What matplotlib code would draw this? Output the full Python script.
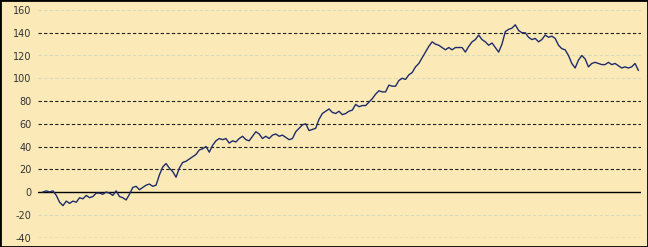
import matplotlib.pyplot as plt
from matplotlib.patches import Rectangle

# valeurs (une tous les ~3 px)
values = [
    0, 1, 0, 1, -3, -9, -12, -8, -10, -8, -9, -5, -6, -3, -5, -4, -1, -1, -2, 0,
    -1, -3, 1, -4, -5, -7, -2, 4, 5, 2, 4, 6, 7, 5, 6, 15, 22, 25, 21, 18,
    13, 21, 26, 27, 29, 31, 33, 37, 38, 40, 35, 41, 45, 47, 46, 47, 43, 45, 44, 47,
    49, 46, 45, 49, 53, 51, 47, 49, 47, 50, 51, 49, 50, 48, 46, 47, 53, 56, 59, 60,
    54, 55, 56, 64, 69, 71, 73, 70, 69, 71, 68, 69, 71, 72, 77, 75, 76, 76, 79, 82,
    86, 89, 88, 88, 94, 93, 93, 98, 100, 99, 103, 105, 110, 113, 118, 123, 128, 132, 130, 129,
    127, 125, 127, 125, 127, 127, 127, 123, 128, 132, 134, 138, 134, 132, 129, 131, 127, 123, 130, 141,
    143, 144, 147, 142, 140, 140, 136, 134, 135, 132, 134, 138, 136, 137, 135, 129, 126, 125, 120, 113,
    109, 116, 120, 117, 110, 113, 114, 113, 112, 112, 114, 112, 113, 111, 109, 110, 109, 110, 113, 107,
]
y_ticks = [-40, -20, 0, 20, 40, 60, 80, 100, 120, 140, 160]
faint_lines = [-20, 100, 120, 160]

bg = '#FBEAB7'
fig = plt.figure(figsize=(6.48, 2.47), dpi=100, facecolor=bg)
ax = fig.add_axes([38 / 648, 1 - 237.5 / 247, (641 - 38) / 648, 227.5 / 247])
ax.set_facecolor(bg)

n = len(values)
ax.set_xlim(-1.5, n - 0.2)
ax.set_ylim(-40, 160)

# quadrillage pointillé
for t in y_ticks:
    if t == 0:
        continue
    if t in faint_lines:
        ax.axhline(t, color='#D5D9BE', lw=0.8, ls=(0, (3, 2)), zorder=1)
    else:
        ax.axhline(t, color='#222222', lw=0.8, ls=(0, (3, 2)), zorder=1)
ax.axhline(0, color='black', lw=1.0, zorder=2)

ax.plot(range(n), values, color='#1E2C6B', lw=1.0, zorder=3)

ax.set_yticks(y_ticks)
ax.set_yticklabels([str(t) for t in y_ticks], fontsize=7, color='#333333')
ax.tick_params(axis='y', length=0, pad=4.5)
ax.set_xticks([])
for s in ax.spines.values():
    s.set_visible(False)

# cadre autour de l'image
fig.patches.append(Rectangle((0, 0), 1, 1, transform=fig.transFigure,
                             fill=False, edgecolor='black', lw=2.0))

fig.savefig('out.png', dpi=100, facecolor=bg)
